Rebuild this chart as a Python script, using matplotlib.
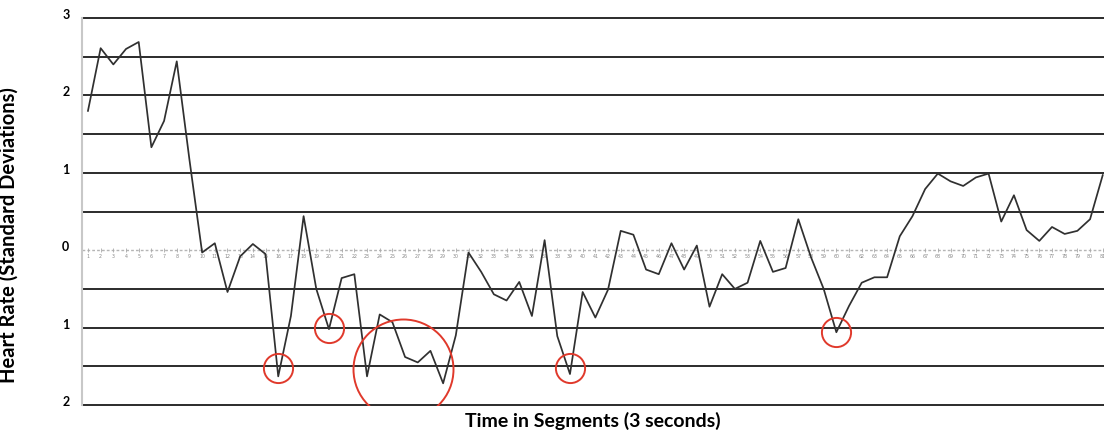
import matplotlib
matplotlib.use("Agg")
import matplotlib.pyplot as plt
from matplotlib.transforms import ScaledTranslation
import numpy as np

segments = list(range(1, 82))
heart_rate = [1.80, 2.61, 2.40, 2.60, 2.69, 1.33, 1.67, 2.44, 1.17, -0.03,
              0.09, -0.54, -0.08, 0.08, -0.05, -1.63, -0.85, 0.44, -0.50, -1.02,
              -0.36, -0.31, -1.63, -0.83, -0.93, -1.38, -1.45, -1.30, -1.72, -1.10,
              -0.03, -0.28, -0.57, -0.65, -0.41, -0.85, 0.13, -1.11, -1.60, -0.54,
              -0.87, -0.51, 0.25, 0.20, -0.25, -0.31, 0.09, -0.25, 0.06, -0.73,
              -0.31, -0.50, -0.42, 0.12, -0.28, -0.23, 0.40, -0.09, -0.50, -1.06,
              -0.72, -0.42, -0.35, -0.35, 0.18, 0.44, 0.79, 0.99, 0.89, 0.83,
              0.94, 0.99, 0.37, 0.71, 0.26, 0.12, 0.30, 0.21, 0.25, 0.40, 0.97]

y_ticks = [3, 2, 1, 0, -1, -2]
y_tick_labels = ["3", "2", "1", "0", "1", "2"]

# highlighted dips (segment, value)
small_circle_x = [16, 20, 39, 60]
small_circle_y = [-1.52, -1.00, -1.52, -1.06]
big_circle_x = [25.85]
big_circle_y = [-1.54]

fig = plt.figure(figsize=(11.04, 4.38), dpi=100)
ax = fig.add_axes([82 / 1104, 1 - 405 / 438, 1 - 82 / 1104, 387 / 438])
ax.set_xlim(0.53, 81.1)
ax.set_ylim(-2, 3)

# horizontal grid lines every 0.5 except zero
for yv in np.arange(-2, 3.01, 0.5):
    if abs(yv) < 1e-9:
        continue
    ax.axhline(yv, color="#2b2b2b", lw=1.4, zorder=1, clip_on=False)

# zero line: dotted gray with small segment ticks and labels
ax.axhline(0, color="#b5b5b5", lw=1.0, ls=(0, (2, 1.5)), zorder=1)
ax.plot(segments, [0] * len(segments), ls="none", marker="|", ms=2.5,
        mew=0.6, color="#aaaaaa", zorder=1)
for s in segments:
    ax.text(s, -0.075, str(s), fontsize=3.4, color="#888888",
            ha="center", va="center", zorder=1)

ax.plot(segments, heart_rate, color="#303030", lw=1.25, zorder=3)

ax.plot(small_circle_x, small_circle_y, ls="none", marker="o", ms=21,
        mfc="none", mec="#e0392b", mew=1.4, zorder=4)
ax.plot(big_circle_x, big_circle_y, ls="none", marker="o", ms=72,
        mfc="none", mec="#e0392b", mew=1.4, zorder=4)

for sp in ["top", "right", "bottom"]:
    ax.spines[sp].set_visible(False)
ax.spines["left"].set_color("#c8c8c8")
ax.spines["left"].set_linewidth(1.5)

ax.set_xticks([])
ax.set_yticks(y_ticks)
ax.set_yticklabels(y_tick_labels, fontsize=9, fontweight="bold",
                   fontfamily="Lato")
ax.tick_params(axis="y", length=0, pad=9)
for lab in ax.get_yticklabels():
    lab.set_transform(lab.get_transform() + ScaledTranslation(0, 0.04, fig.dpi_scale_trans))

ax.set_xlabel("Time in Segments (3 seconds)", fontsize=14, fontweight="bold",
              fontfamily="Lato", labelpad=5)
ax.set_ylabel("Heart Rate (Standard Deviations)", fontsize=14.5, fontweight="bold",
              fontfamily="Lato")
ax.yaxis.set_label_coords(-0.062, 0.44)

fig.savefig("out.png", dpi=100)
